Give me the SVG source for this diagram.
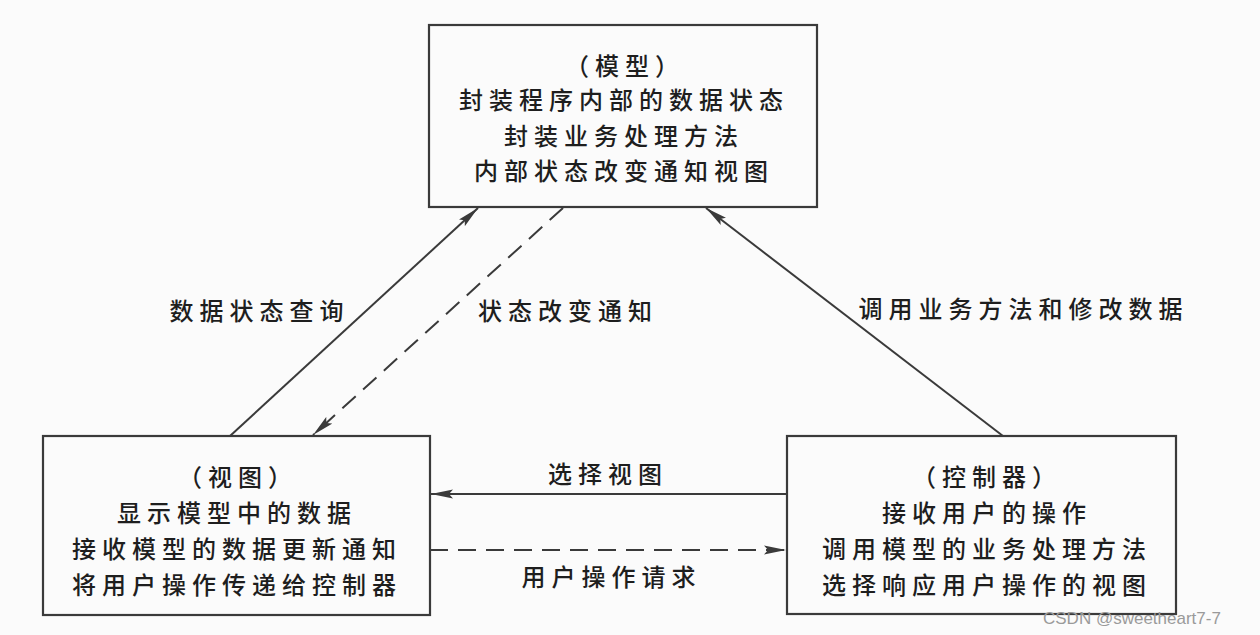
<svg xmlns="http://www.w3.org/2000/svg" width="1260" height="635" viewBox="0 0 1260 635">
<style>
.box{fill:none;stroke:#3a3a3a;stroke-width:2.2}
.t{font-family:"Noto Sans CJK SC","Noto Sans",sans-serif;font-size:24px;font-weight:500;letter-spacing:6px;fill:#1e1e1e;text-anchor:middle;dominant-baseline:central}
.l{font-family:"Noto Sans CJK SC","Noto Sans",sans-serif;font-size:24px;font-weight:500;letter-spacing:6px;fill:#1e1e1e;text-anchor:middle;dominant-baseline:central}
.c{fill:none;stroke:#3a3a3a;stroke-width:2}
.d{stroke-dasharray:18 10}
.wm{font-family:"Liberation Sans","DejaVu Sans",sans-serif;font-size:17px;fill:#9a9a9a}
</style>
<defs>
<marker id="ah" markerUnits="userSpaceOnUse" markerWidth="24" markerHeight="10" refX="22" refY="5" orient="auto">
<path d="M0,0.5 L22,5 L0,9.5 L4,5 z" fill="#3a3a3a"/>
</marker>
</defs>
<rect width="1260" height="635" fill="#fbfbfb"/>
<g id="model">
<rect class="box" x="429" y="25" width="388" height="182"/>
<text class="t" x="625" y="64">（模型）</text>
<text class="t" x="624" y="98">封装程序内部的数据状态</text>
<text class="t" x="624" y="134">封装业务处理方法</text>
<text class="t" x="624" y="169">内部状态改变通知视图</text>
</g>
<g id="view">
<rect class="box" x="43" y="436" width="387" height="179"/>
<text class="t" x="238" y="475">（视图）</text>
<text class="t" x="237" y="511">显示模型中的数据</text>
<text class="t" x="237" y="547">接收模型的数据更新通知</text>
<text class="t" x="237" y="583">将用户操作传递给控制器</text>
</g>
<g id="controller">
<rect class="box" x="787" y="436" width="389" height="178"/>
<text class="t" x="987" y="475">（控制器）</text>
<text class="t" x="987" y="511">接收用户的操作</text>
<text class="t" x="987" y="547">调用模型的业务处理方法</text>
<text class="t" x="987" y="583">选择响应用户操作的视图</text>
</g>
<g id="connectors">
<line class="c" x1="230" y1="436" x2="478" y2="208" marker-end="url(#ah)"/>
<line class="c d" x1="563" y1="208" x2="313" y2="435" marker-end="url(#ah)"/>
<line class="c" x1="1003" y1="436" x2="706" y2="208" marker-end="url(#ah)"/>
<line class="c" x1="787" y1="494" x2="431" y2="494" marker-end="url(#ah)"/>
<line class="c d" x1="430" y1="550" x2="786" y2="550" marker-end="url(#ah)"/>
<text class="l" x="259.5" y="309">数据状态查询</text>
<text class="l" x="568" y="309">状态改变通知</text>
<text class="l" x="1023.5" y="307">调用业务方法和修改数据</text>
<text class="l" x="608" y="472">选择视图</text>
<text class="l" x="611.5" y="575">用户操作请求</text>
</g>
<text class="wm" x="1043" y="624">CSDN @sweetheart7-7</text>
</svg>
